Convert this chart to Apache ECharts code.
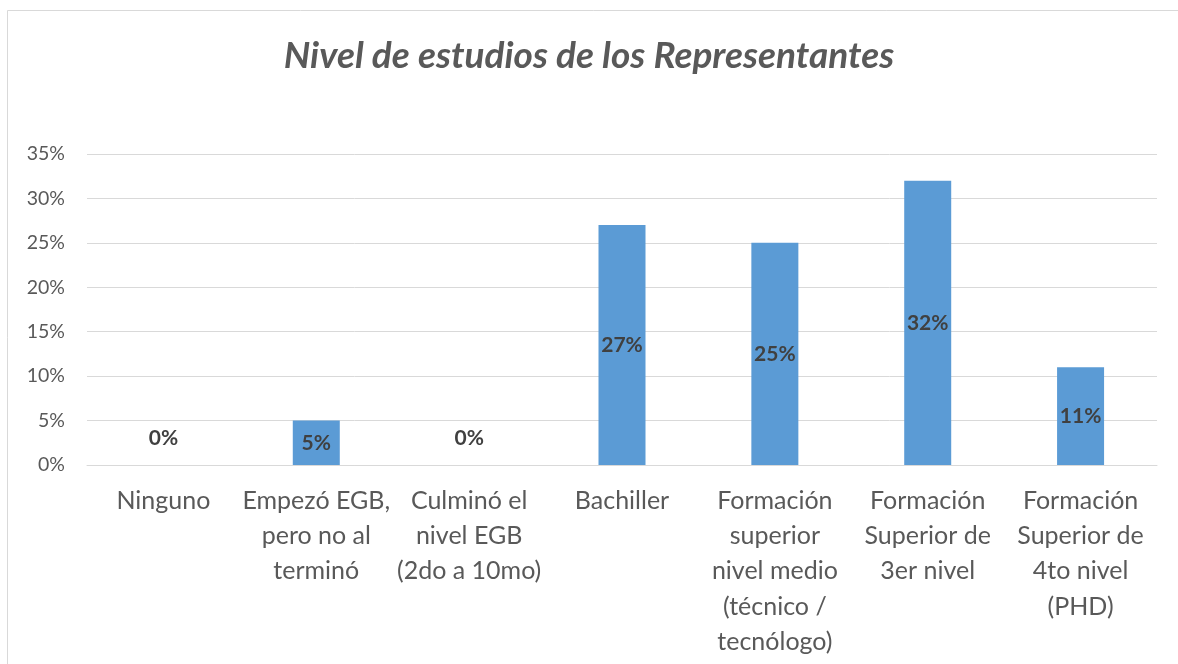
<!DOCTYPE html>
<html>
<head>
<meta charset="utf-8">
<script src="https://cdn.jsdelivr.net/npm/echarts@6/dist/echarts.min.js"></script>
<style>
  html, body { margin: 0; padding: 0; background: #fff; }
  #chart { width: 1178px; height: 664px; }
</style>
</head>
<body>
<div id="chart"></div>
<script>
// Chart data
const categories = [
    'Ninguno',
    'Empezó EGB,\npero no al\nterminó',
    'Culminó el\nnivel EGB\n(2do a 10mo)',
    'Bachiller',
    'Formación\nsuperior\nnivel medio\n(técnico /\ntecnólogo)',
    'Formación\nSuperior de\n3er nivel',
    'Formación\nSuperior de\n4to nivel\n(PHD)'
];
const values = [0, 5, 0, 27, 25, 32, 11];
const yTicks = [0, 5, 10, 15, 20, 25, 30, 35];

const FONT = 'Lato, "Open Sans", sans-serif';

const chart = echarts.init(document.getElementById('chart'));

// zero bars still get their label, lifted above the axis like in Excel
const barData = values.map(v => {
    if (v === 0) {
        return { value: v, label: { offset: [0, -27] } };
    }
    return v;
});

const option = {
    backgroundColor: '#ffffff',
    animation: false,
    title: {
        text: 'Nivel de estudios de los Representantes',
        left: 'center',
        top: 33,
        textStyle: {
            fontFamily: FONT,
            fontSize: 37,
            fontStyle: 'italic',
            fontWeight: 'bold',
            color: '#595959'
        }
    },
    graphic: [{
        type: 'rect',
        shape: { x: 7.5, y: 10.5, width: 1200, height: 700 },
        style: { fill: 'none', stroke: '#d9d9d9', lineWidth: 1 },
        silent: true
    }],
    grid: { left: 87, right: 21, top: 154, bottom: 199 },
    xAxis: {
        type: 'category',
        data: categories,
        axisLine: { lineStyle: { color: '#d9d9d9', width: 1 } },
        axisTick: { show: false },
        axisLabel: {
            interval: 0,
            margin: 18,
            fontFamily: FONT,
            fontSize: 25,
            lineHeight: 35.3,
            color: '#595959'
        }
    },
    yAxis: {
        type: 'value',
        min: 0,
        max: 35,
        interval: 5,
        axisLine: { show: false },
        axisTick: { show: false },
        splitLine: { lineStyle: { color: '#d9d9d9', width: 1 } },
        axisLabel: {
            margin: 22,
            fontFamily: FONT,
            fontSize: 19.5,
            color: '#595959',
            formatter: v => yTicks.includes(v) ? v + '%' : ''
        }
    },
    series: [{
        type: 'bar',
        data: barData,
        barWidth: 47,
        itemStyle: { color: '#5b9bd5' },
        label: {
            show: true,
            position: 'inside',
            formatter: '{c}%',
            fontFamily: FONT,
            fontSize: 21,
            fontWeight: 'bold',
            color: '#404040'
        }
    }]
};

chart.setOption(option);
window.addEventListener('resize', () => chart.resize());
</script>
</body>
</html>
